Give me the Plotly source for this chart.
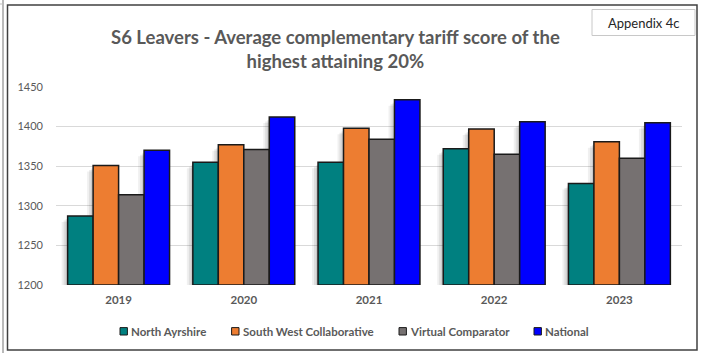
import plotly.graph_objects as go

# ---- data -------------------------------------------------------------
years = ["2019", "2020", "2021", "2022", "2023"]
north_ayrshire = [1287, 1355, 1355, 1372, 1328]
south_west_collab = [1351, 1377, 1398, 1397, 1381]
virtual_comparator = [1314, 1371, 1384, 1365, 1360]
national = [1370, 1412, 1434, 1406, 1405]

series_names = ["North Ayrshire", "South West Collaborative",
                "Virtual Comparator", "National"]
series_values = [north_ayrshire, south_west_collab, virtual_comparator, national]
series_colors = ["#008080", "#ED7D31", "#767171", "#0000FF"]

y_ticks = [1200, 1250, 1300, 1350, 1400, 1450]

# ---- geometry (pixels) -----------------------------------------------
W, H = 702, 354
ML, MR, MT, MB = 56, 20, 87, 69
PW, PH = W - ML - MR, H - MT - MB
Y_MIN, Y_MAX = 1200, 1450


def px(x):
    return (x - ML) / PW


def py(y):
    return (H - MB - y) / PH


CAT_PX = PW / len(years)          # pixels per category slot
UNIT_PX = PH / (Y_MAX - Y_MIN)    # pixels per score point
BAR_W = 0.2035                    # bar width in category units
GROUP_LEFT = -2 * BAR_W

FONT = "Lato, 'Liberation Sans Narrow', 'DejaVu Sans', sans-serif"
TXT = "#595959"

fig = go.Figure()

# soft drop shadow behind each bar (drawn first so it sits underneath)
shadow_layers = [(5.0, 6.0, 2.0, "rgba(0,0,0,0.06)"),
                 (3.5, 4.5, 1.0, "rgba(0,0,0,0.08)"),
                 (2.0, 3.0, 0.0, "rgba(0,0,0,0.09)")]
for dx, dy, grow, col in shadow_layers:
    for i, vals in enumerate(series_values):
        fig.add_trace(go.Bar(
            x=years, y=[v - Y_MIN - dy / UNIT_PX for v in vals], base=Y_MIN,
            width=BAR_W + grow / CAT_PX,
            offset=GROUP_LEFT + i * BAR_W - (dx + grow / 2) / CAT_PX,
            marker=dict(color=col, line=dict(width=0)),
            showlegend=False, hoverinfo="skip",
        ))

for i, (name, vals, col) in enumerate(zip(series_names, series_values, series_colors)):
    fig.add_trace(go.Bar(
        x=years, y=[v - Y_MIN for v in vals], base=Y_MIN, name=name,
        width=BAR_W, offset=GROUP_LEFT + i * BAR_W,
        marker=dict(color=col, line=dict(color="#1a1a1a", width=1.5)),
        showlegend=False,
    ))

shapes = []
annotations = []

# outer chart frame
shapes.append(dict(type="rect", xref="paper", yref="paper",
                   x0=px(7.5), x1=px(697), y0=py(350), y1=py(5),
                   line=dict(color="#404040", width=1.5), layer="below"))
# thin edge on the far left
shapes.append(dict(type="line", xref="paper", yref="paper",
                   x0=px(3), x1=px(3), y0=py(0), y1=py(353),
                   line=dict(color="#8c8c8c", width=1.2)))
shapes.append(dict(type="line", xref="paper", yref="paper",
                   x0=px(0), x1=px(3), y0=py(4), y1=py(4),
                   line=dict(color="#bfbfbf", width=1)))

# appendix label box
shapes.append(dict(type="rect", xref="paper", yref="paper",
                   x0=px(592), x1=px(695), y0=py(35.5), y1=py(9.5),
                   line=dict(color="#c8c8c8", width=1), fillcolor="white"))
annotations.append(dict(text="Appendix 4c", xref="paper", yref="paper",
                        x=px(643.5), y=py(22.5), showarrow=False,
                        xanchor="center", yanchor="middle",
                        font=dict(family=FONT, size=13, color="#262626")))

# title (two lines)
annotations.append(dict(
    text="<b>S6 Leavers - Average complementary tariff score of the<br>highest attaining 20%</b>",
    xref="paper", yref="paper", x=px(335), y=py(49), showarrow=False,
    xanchor="center", yanchor="middle", align="center",
    font=dict(family=FONT, size=18.5, color=TXT)))

# legend: square swatch + label per series
legend_centres = [123.7, 235.3, 402.7, 537.7]
for name, col, cx in zip(series_names, series_colors, legend_centres):
    shapes.append(dict(type="rect", xref="paper", yref="paper",
                       x0=px(cx - 3.7), x1=px(cx + 3.7),
                       y0=py(335), y1=py(327.6),
                       fillcolor=col, line=dict(color="#1a1a1a", width=1)))
    annotations.append(dict(text=f"<b>{name}</b>", xref="paper", yref="paper",
                            x=px(cx + 5.5), y=py(331.3), showarrow=False,
                            xanchor="left", yanchor="middle",
                            font=dict(family=FONT, size=11.5, color=TXT)))

fig.update_layout(
    width=W, height=H,
    margin=dict(l=ML, r=MR, t=MT, b=MB, pad=0),
    paper_bgcolor="white", plot_bgcolor="white",
    barmode="overlay",
    shapes=shapes, annotations=annotations,
    showlegend=False,
    xaxis=dict(showgrid=False, showline=False, ticks="",
               tickfont=dict(family=FONT, size=11.5, color=TXT, weight="bold"),
               ticklabelstandoff=6),
    yaxis=dict(range=[Y_MIN, Y_MAX], tickvals=y_ticks, showgrid=True,
               gridcolor="#d9d9d9", gridwidth=1, zeroline=False,
               showline=False, ticks="",
               tickfont=dict(family=FONT, size=11, color=TXT),
               ticklabelstandoff=12),
)

fig.write_html("out.html")
